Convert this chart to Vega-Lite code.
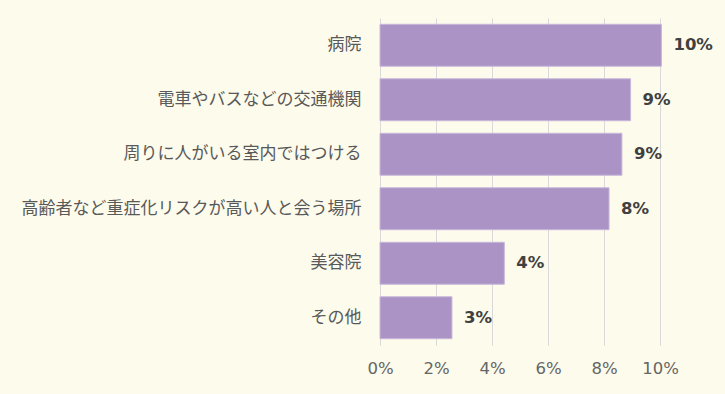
{
  "$schema": "https://vega.github.io/schema/vega-lite/v6.json",
  "autosize": "none",
  "width": 280,
  "height": 327,
  "padding": {"left": 380, "top": 18, "right": 65, "bottom": 49},
  "background": "#FDFBEC",
  "config": {"view": {"stroke": null}},
  "data": {
    "values": [
      {"item": "病院", "value": 0.1005},
      {"item": "電車やバスなどの交通機関", "value": 0.0895},
      {"item": "周りに人がいる室内ではつける", "value": 0.0864},
      {"item": "高齢者など重症化リスクが高い人と会う場所", "value": 0.0818},
      {"item": "美容院", "value": 0.0444},
      {"item": "その他", "value": 0.0257}
    ]
  },
  "encoding": {
    "y": {
      "field": "item",
      "type": "nominal",
      "sort": null,
      "scale": {"paddingInner": 0.23, "paddingOuter": 0.115},
      "axis": {
        "title": null,
        "ticks": false,
        "domain": false,
        "labelPadding": 19,
        "labelFont": "Noto Sans CJK JP",
        "labelFontSize": 17,
        "labelColor": "#595959",
        "labelLimit": 400
      }
    },
    "x": {
      "field": "value",
      "type": "quantitative",
      "scale": {"domain": [0, 0.1], "nice": false},
      "axis": {
        "title": null,
        "format": ".0%",
        "values": [0, 0.02, 0.04, 0.06, 0.08, 0.1],
        "ticks": false,
        "domain": false,
        "grid": true,
        "gridColor": "#D9D9D9",
        "gridWidth": 1,
        "labelFlush": false,
        "labelPadding": 15,
        "labelFont": "DejaVu Sans",
        "labelFontSize": 16.5,
        "labelColor": "#666666"
      }
    }
  },
  "layer": [
    {
      "mark": {"type": "bar", "color": "#AB93C5", "stroke": "#C8B8DA", "strokeWidth": 1}
    },
    {
      "mark": {
        "type": "text",
        "align": "left",
        "baseline": "middle",
        "dx": 12,
        "font": "DejaVu Sans",
        "fontWeight": "bold",
        "fontSize": 16.5,
        "color": "#404040"
      },
      "encoding": {
        "text": {"field": "value", "type": "quantitative", "format": ".0%"}
      }
    }
  ]
}
